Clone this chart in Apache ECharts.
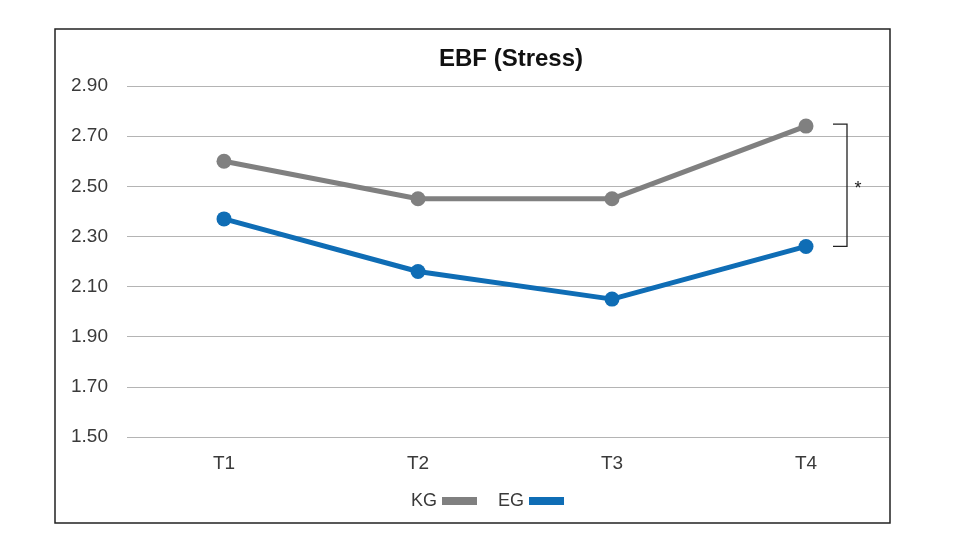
<!DOCTYPE html>
<html>
<head>
<meta charset="UTF-8">
<title>EBF (Stress)</title>
<script src="https://cdn.jsdelivr.net/npm/echarts@6/dist/echarts.min.js"></script>
</head>
<body style="margin:0">
<div id="main" style="width:960px;height:539px;"></div>
<script type="text/javascript">
var categories = ['T1', 'T2', 'T3', 'T4'];
var kgValues = [2.60, 2.45, 2.45, 2.74];
var egValues = [2.37, 2.16, 2.05, 2.26];
var yMin = 1.5, yMax = 2.9, yStep = 0.2;

var FONT = '"Liberation Sans", Arial, sans-serif';
var GRAY = '#808080', BLUE = '#0f6db5';
var TXT = '#3a3a3a';

var myChart = echarts.init(document.getElementById('main'));
myChart.setOption({
    animation: false,
    textStyle: { fontFamily: FONT },
    title: {
        text: 'EBF (Stress)',
        left: 506, top: 42, textAlign: 'center',
        textStyle: { fontSize: 24, fontWeight: 'bold', color: '#111', fontFamily: FONT }
    },
    legend: {
        data: ['KG', 'EG'],
        left: 406, top: 487,
        align: 'right',
        icon: 'rect',
        itemWidth: 35, itemHeight: 8, itemGap: 21,
        textStyle: { fontSize: 18, color: TXT, padding: [0, 0, 0, 0] }
    },
    grid: [
        { left: 127, right: 71, top: 86, bottom: 102 },
        { left: 127, right: 57, top: 86, bottom: 102 }
    ],
    xAxis: [
        { gridIndex: 0, type: 'category', data: categories, show: false },
        {
            gridIndex: 1, type: 'category', data: categories,
            axisLine: { show: false }, axisTick: { show: false },
            axisLabel: { fontSize: 19, color: TXT, margin: 17 }
        }
    ],
    yAxis: [
        {
            gridIndex: 0, type: 'value', min: yMin, max: yMax, interval: yStep,
            axisLine: { show: false }, axisTick: { show: false },
            axisLabel: { fontSize: 19, color: TXT, margin: 19,
                formatter: function (v) { return v.toFixed(2); } },
            splitLine: { lineStyle: { color: '#b4b4b4', width: 1 } }
        },
        {
            gridIndex: 1, type: 'value', min: yMin, max: yMax, interval: yStep,
            show: false, splitLine: { show: false }
        }
    ],
    series: [
        {
            name: 'KG', type: 'line', xAxisIndex: 1, yAxisIndex: 1,
            data: kgValues, color: GRAY,
            symbol: 'circle', symbolSize: 15,
            lineStyle: { width: 5, color: GRAY }, itemStyle: { color: GRAY }
        },
        {
            name: 'EG', type: 'line', xAxisIndex: 1, yAxisIndex: 1,
            data: egValues, color: BLUE,
            symbol: 'circle', symbolSize: 15,
            lineStyle: { width: 5, color: BLUE }, itemStyle: { color: BLUE }
        }
    ]
});

// significance bracket between the two T4 points
var last = categories.length - 1;
var pTop = myChart.convertToPixel({ xAxisIndex: 1, yAxisIndex: 1 }, [last, kgValues[last]]);
var pBot = myChart.convertToPixel({ xAxisIndex: 1, yAxisIndex: 1 }, [last, egValues[last]]);
var bx = pTop[0] + 41, tx = pTop[0] + 27;
myChart.setOption({
    graphic: [
        { type: 'rect', shape: { x: 55, y: 29, width: 835, height: 494 },
          style: { fill: 'none', stroke: '#222', lineWidth: 1.5 }, silent: true },
        { type: 'polyline', shape: { points: [[tx, pTop[1] - 2], [bx, pTop[1] - 2], [bx, pBot[1]], [tx, pBot[1]]] },
          style: { fill: 'none', stroke: '#222', lineWidth: 1.3 }, silent: true },
        { type: 'text', x: bx + 11, y: (pTop[1] + pBot[1]) / 2 + 3,
          style: { text: '*', fontSize: 18, fill: '#222', align: 'center', verticalAlign: 'middle', fontFamily: FONT } }
    ]
});
</script>
</body>
</html>
